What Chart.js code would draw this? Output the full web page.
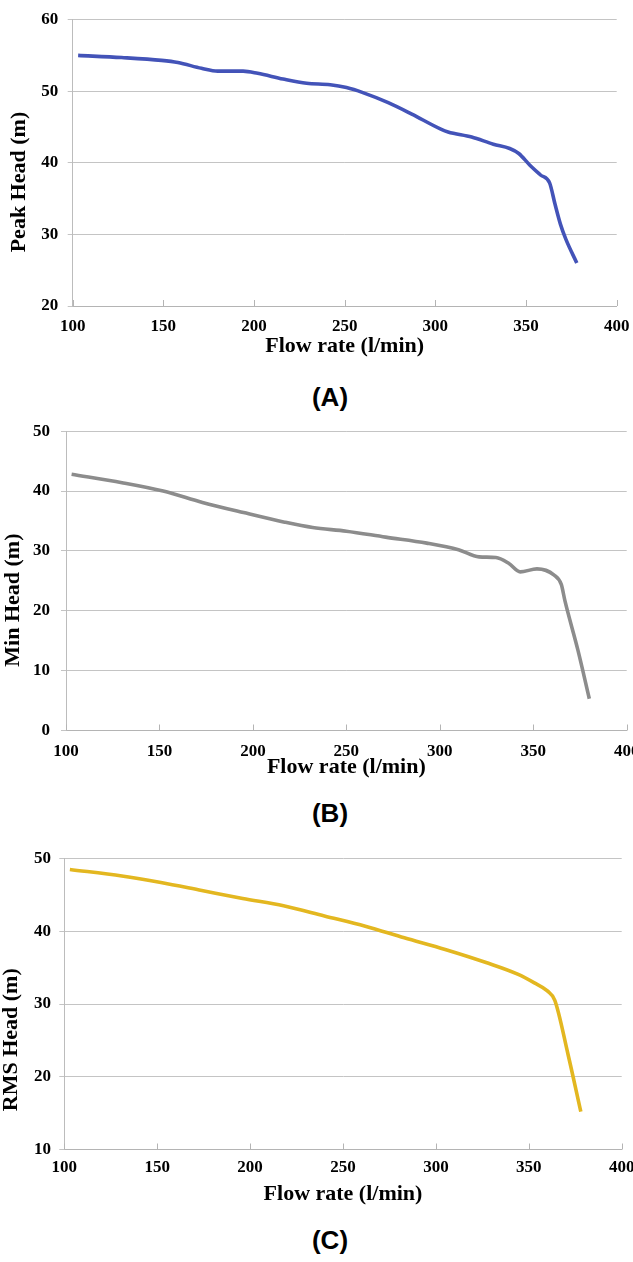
<!DOCTYPE html>
<html>
<head>
<meta charset="utf-8">
<script src="https://cdn.jsdelivr.net/npm/chart.js@4.4.1/dist/chart.umd.min.js"></script>
<style>
    html, body { margin: 0; padding: 0; background: #fff; overflow: hidden; }
    body { width: 633px; height: 1262px; position: relative; }
    .box { position: absolute; left: 0; width: 660px; }
    .tag {
        position: absolute; width: 120px; left: 270px; text-align: center;
        font: bold 26px "Liberation Sans", Arial, sans-serif; line-height: 26px; color: #000;
    }
</style>
</head>
<body>
<div class="box" style="top:0px;height:360px"><canvas id="chartA"></canvas></div>
<div class="tag" style="top:384px">(A)</div>
<div class="box" style="top:410px;height:371px"><canvas id="chartB"></canvas></div>
<div class="tag" style="top:800px">(B)</div>
<div class="box" style="top:840px;height:368px"><canvas id="chartC"></canvas></div>
<div class="tag" style="top:1227px">(C)</div>

<script>
// values
const flowA = [103, 127, 149, 158, 171, 180, 194, 202, 216, 229, 242, 251, 260, 274, 287, 303, 307, 320, 332, 341, 346, 352, 358, 363, 366, 369, 372, 378];
const peakHead = [55.0, 54.7, 54.3, 54.0, 53.2, 52.8, 52.8, 52.5, 51.7, 51.1, 50.9, 50.5, 49.8, 48.4, 46.8, 44.7, 44.3, 43.6, 42.6, 42.0, 41.3, 39.7, 38.3, 37.2, 34.2, 31.4, 29.3, 26.0];

const flowB = [103, 130, 152, 173, 195, 217, 232, 250, 271, 293, 310, 321, 330, 337, 343, 352, 361, 365, 367, 374, 380];
const minHead = [42.8, 41.4, 40.0, 38.1, 36.4, 34.8, 33.9, 33.3, 32.3, 31.3, 30.2, 29.0, 28.9, 27.9, 26.5, 27.0, 26.0, 24.4, 21.6, 13.3, 5.3];

const flowC = [103, 131, 152, 174, 196, 218, 240, 262, 283, 305, 327, 344, 353, 360, 364, 371, 378];
const rmsHead = [48.5, 47.6, 46.7, 45.6, 44.5, 43.5, 42.1, 40.7, 39.1, 37.5, 35.7, 34.1, 32.9, 31.8, 30.5, 23.2, 15.2];

const flowTicks = [100, 150, 200, 250, 300, 350, 400];

Chart.defaults.font.family = '"Liberation Serif", "Times New Roman", serif';
Chart.defaults.font.weight = 'bold';
Chart.defaults.color = '#000';

// excel style tick marks pointing up into the plot
const innerTicks = {
    id: 'innerTicks',
    beforeDatasetsDraw(chart) {
        const xs = chart.scales.x;
        const ctx = chart.ctx;
        ctx.save();
        ctx.strokeStyle = '#b4b4b4';
        ctx.lineWidth = 1;
        xs.ticks.forEach(t => {
            const px = Math.round(xs.getPixelForValue(t.value)) + 0.5;
            ctx.beginPath();
            ctx.moveTo(px, xs.top);
            ctx.lineTo(px, xs.top - 6);
            ctx.stroke();
        });
        ctx.restore();
    }
};

function makeChart(id, cfg) {
    const pts = cfg.xs.map((x, i) => ({ x: x, y: cfg.ys[i] }));
    return new Chart(document.getElementById(id), {
        type: 'line',
        data: {
            datasets: [{
                data: pts,
                borderColor: cfg.color,
                borderWidth: 3.6,
                pointRadius: 0,
                cubicInterpolationMode: 'monotone',
                fill: false
            }]
        },
        plugins: [innerTicks],
        options: {
            responsive: true,
            maintainAspectRatio: false,
            animation: false,
            layout: { padding: cfg.pad },
            plugins: { legend: { display: false }, tooltip: { enabled: false } },
            scales: {
                x: {
                    type: 'linear',
                    min: 100,
                    max: 400,
                    afterBuildTicks: s => { s.ticks = flowTicks.map(v => ({ value: v })); },
                    afterFit: s => { s.height = cfg.xHeight; },
                    grid: { drawOnChartArea: false, drawTicks: false },
                    border: { color: '#b4b4b4' },
                    ticks: { font: { size: 17 }, padding: cfg.xPad, maxRotation: 0 },
                    title: {
                        display: true,
                        text: 'Flow rate (l/min)',
                        font: { size: 22, lineHeight: 1.2 },
                        padding: 0
                    }
                },
                y: {
                    min: cfg.yMin,
                    max: cfg.yMax,
                    afterFit: s => { s.width = cfg.yWidth; },
                    ticks: { stepSize: 10, font: { size: 17 }, padding: cfg.yPad },
                    grid: { color: '#c4c4c4', tickLength: 5 },
                    border: { color: '#bcbcbc' },
                    title: {
                        display: true,
                        text: cfg.yTitle,
                        font: { size: 22, lineHeight: 1.0 },
                        padding: { top: cfg.titlePad, bottom: 0 }
                    }
                }
            }
        }
    });
}

const sp = n => '\u00a0'.repeat(n);

makeChart('chartA', {
    xs: flowA, ys: peakHead, color: '#4353b8',
    yMin: 20, yMax: 60, yTitle: 'Peak Head (m)' + sp(7),
    pad: { top: 15.3, right: 660 - 616.7, left: 0, bottom: 0 },
    yWidth: 72.7, xHeight: 54, xPad: 10.5, yPad: 9.4, titlePad: 8
});

makeChart('chartB', {
    xs: flowB, ys: minHead, color: '#8c8c8c',
    yMin: 0, yMax: 50, yTitle: 'Min Head (m)' + sp(7),
    pad: { top: 18.3, right: 660 - 626.7, left: 0, bottom: 0 },
    yWidth: 66, xHeight: 50.5, xPad: 10.8, yPad: 11, titlePad: 2
});

makeChart('chartC', {
    xs: flowC, ys: rmsHead, color: '#e3b720',
    yMin: 10, yMax: 50, yTitle: 'RMS Head (m)' + sp(13),
    pad: { top: 17.7, right: 660 - 621.7, left: 0, bottom: 0 },
    yWidth: 64.3, xHeight: 58.5, xPad: 8.4, yPad: 8.3, titlePad: 0
});
</script>
</body>
</html>
